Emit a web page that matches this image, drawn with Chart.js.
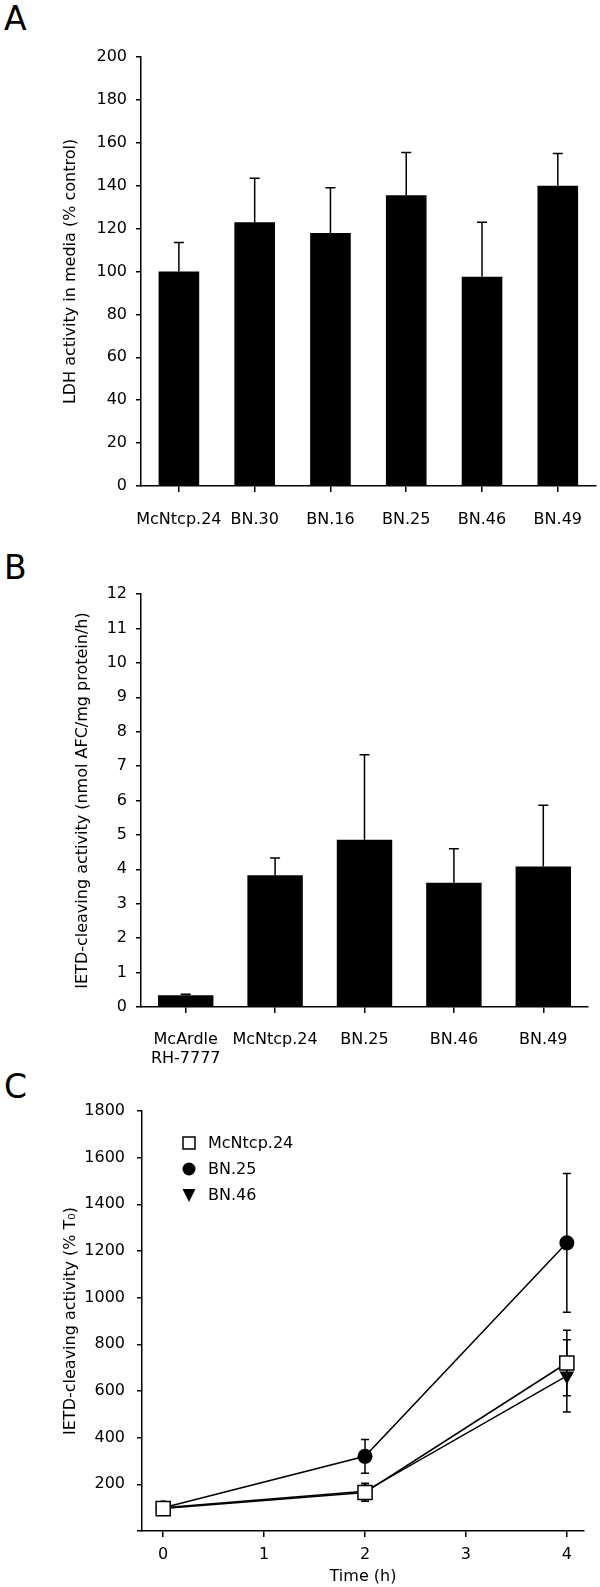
<!DOCTYPE html>
<html>
<head>
<meta charset="utf-8">
<script src="https://cdn.jsdelivr.net/npm/chart.js@4.4.0/dist/chart.umd.min.js"></script>
<style>
  body { margin: 0; background: #fff; width: 600px; height: 1587px; position: relative; overflow: hidden; }
  canvas { position: absolute; left: 0; }
  .lettre { position: absolute; left: 4px; font-family: "DejaVu Sans"; font-size: 33px; line-height: 33px; color: #000; }
</style>
</head>
<body>
<div class="lettre" style="top:2px">A</div>
<div class="lettre" style="top:551px">B</div>
<div class="lettre" style="top:1070px">C</div>
<canvas id="graphA" width="600" height="530" style="top:0px"></canvas>
<canvas id="graphB" width="600" height="536" style="top:530px"></canvas>
<canvas id="graphC" width="600" height="521" style="top:1066px"></canvas>
<script>
// Panel A : LDH
const lignesA = ['McNtcp.24', 'BN.30', 'BN.16', 'BN.25', 'BN.46', 'BN.49'];
const ldhMoy = [100, 123, 118, 135.5, 97.5, 140];
const ldhErr = [13.5, 20.5, 21, 20, 25.5, 15];

// Panel B : IETD
const lignesB = [['McArdle', 'RH-7777'], 'McNtcp.24', 'BN.25', 'BN.46', 'BN.49'];
const ietdMoy = [0.34, 3.83, 4.86, 3.61, 4.08];
const ietdErr = [0.03, 0.5, 2.47, 0.99, 1.78];

// Panel C : cinetique
const tempsH = [0, 2, 4];
const seriesC = ['McNtcp.24', 'BN.25', 'BN.46'];
const mcntcp = [96, 165, 720];
const mcntcpErr = [0, 38, 140];
const bn25 = [100, 320, 1235];
const bn25Err = [0, 72, 297];
const bn46 = [100, 170, 665];
const bn46Err = [0, 35, 155];
const ticksTemps = [0, 1, 2, 3, 4];

Chart.defaults.font.family = 'DejaVu Sans';
Chart.defaults.font.size = 16;
Chart.defaults.color = '#000';
Chart.defaults.animation = false;

// barres d'erreur dessinees avec les echelles du graphique
const barresErreur = {
    id: 'barresErreur',
    dessiner(chart, opts) {
        const ctx = chart.ctx;
        const y = chart.scales.y;
        ctx.save();
        ctx.strokeStyle = '#000';
        ctx.lineWidth = 1.5;
        chart.data.datasets.forEach((ds, di) => {
            const meta = chart.getDatasetMeta(di);
            ds.erreurs.forEach((e, i) => {
                if (!e) return;
                const v = typeof ds.data[i] === 'object' ? ds.data[i].y : ds.data[i];
                const x = meta.data[i].x;
                const haut = y.getPixelForValue(v + e);
                const bas = opts.versHaut ? y.getPixelForValue(v) : y.getPixelForValue(v - e);
                ctx.beginPath();
                ctx.moveTo(x, bas);
                ctx.lineTo(x, haut);
                ctx.moveTo(x - opts.cap, haut);
                ctx.lineTo(x + opts.cap, haut);
                if (!opts.versHaut) {
                    ctx.moveTo(x - opts.cap, bas);
                    ctx.lineTo(x + opts.cap, bas);
                }
                ctx.stroke();
            });
        });
        ctx.restore();
    },
    beforeDatasetsDraw(chart, args, opts) {
        if (opts.dessous) this.dessiner(chart, opts);
    },
    afterDatasetsDraw(chart, args, opts) {
        if (!opts.dessous) this.dessiner(chart, opts);
    }
};

// legende du panel C
const legendeC = {
    id: 'legendeC',
    afterDraw(chart) {
        const ctx = chart.ctx;
        const area = chart.chartArea;
        ctx.save();
        seriesC.forEach((nom, i) => {
            const x = area.left + 47;
            const y = area.top + 32 + i * 26;
            ctx.lineWidth = 1.5;
            ctx.strokeStyle = '#000';
            ctx.fillStyle = '#000';
            ctx.beginPath();
            if (i === 0) {
                ctx.rect(x - 6, y - 6, 12, 12);
                ctx.fillStyle = '#fff';
                ctx.fill();
                ctx.stroke();
            } else if (i === 1) {
                ctx.arc(x, y, 6.5, 0, Math.PI * 2);
                ctx.fill();
            } else {
                ctx.moveTo(x - 6.5, y - 6);
                ctx.lineTo(x + 6.5, y - 6);
                ctx.lineTo(x, y + 7);
                ctx.closePath();
                ctx.fill();
            }
            ctx.fillStyle = '#000';
            ctx.font = '16px "DejaVu Sans"';
            ctx.textBaseline = 'middle';
            ctx.textAlign = 'left';
            ctx.fillText(nom, area.left + 66, y + 1);
        });
        ctx.restore();
    }
};

function grille(long) {
    return { drawOnChartArea: false, drawTicks: true, tickLength: long, offset: false, color: '#000', lineWidth: 1.5 };
}
const bordure = { display: true, color: '#000', width: 1.5 };

function graphiqueBarres(id, labels, moy, err, conf) {
    const ctx = document.getElementById(id).getContext('2d');
    return new Chart(ctx, {
        type: 'bar',
        data: {
            labels: labels,
            datasets: [{
                data: moy,
                erreurs: err,
                backgroundColor: '#000',
                borderWidth: 0,
                categoryPercentage: 1.0,
                barPercentage: conf.barre
            }]
        },
        options: {
            responsive: false,
            devicePixelRatio: 1,
            layout: { padding: conf.padding },
            scales: {
                x: {
                    grid: grille(6),
                    border: bordure,
                    ticks: { padding: conf.padX, maxRotation: 0, autoSkip: false },
                    afterFit: s => { s.height = conf.hautX; }
                },
                y: {
                    min: 0,
                    max: conf.max,
                    grid: grille(5),
                    border: bordure,
                    ticks: { stepSize: conf.pas, padding: 9 },
                    title: { display: true, text: conf.titre, padding: 0 },
                    afterFit: s => { s.width = conf.largY; }
                }
            },
            plugins: {
                legend: { display: false },
                tooltip: { enabled: false },
                barresErreur: { versHaut: true, dessous: false, cap: 5 }
            }
        },
        plugins: [barresErreur]
    });
}

graphiqueBarres('graphA', lignesA, ldhMoy, ldhErr, {
    barre: 0.536, max: 200, pas: 20, padX: 18, hautX: 44, largY: 80,
    padding: { top: 57, left: 61, right: 0, bottom: 0 },
    titre: 'LDH activity in media (% control)'
});

graphiqueBarres('graphB', lignesB, ietdMoy, ietdErr, {
    barre: 0.62, max: 12, pas: 1, padX: 17, hautX: 59, largY: 68,
    padding: { top: 64, left: 73, right: 12, bottom: 0 },
    titre: 'IETD-cleaving activity (nmol AFC/mg protein/h)'
});

function points(valeurs) {
    return tempsH.map((t, i) => ({ x: t, y: valeurs[i] }));
}

new Chart(document.getElementById('graphC').getContext('2d'), {
    type: 'line',
    data: {
        datasets: [{
            label: seriesC[0],
            data: points(mcntcp),
            erreurs: mcntcpErr,
            borderColor: '#000',
            borderWidth: 1.5,
            pointStyle: 'rect',
            pointRadius: 10,
            pointBackgroundColor: '#fff',
            pointBorderColor: '#000',
            pointBorderWidth: 1.5
        }, {
            label: seriesC[1],
            data: points(bn25),
            erreurs: bn25Err,
            borderColor: '#000',
            borderWidth: 1.5,
            pointStyle: 'circle',
            pointRadius: 7.5,
            pointBackgroundColor: '#000',
            pointBorderColor: '#000',
            pointBorderWidth: 0
        }, {
            label: seriesC[2],
            data: points(bn46),
            erreurs: bn46Err,
            borderColor: '#000',
            borderWidth: 1.5,
            pointStyle: 'triangle',
            pointRotation: 180,
            pointRadius: 8.5,
            pointBackgroundColor: '#000',
            pointBorderColor: '#000',
            pointBorderWidth: 0
        }]
    },
    options: {
        responsive: false,
        devicePixelRatio: 1,
        layout: { padding: { top: 45, left: 61, right: 16, bottom: 0 } },
        scales: {
            x: {
                type: 'linear',
                min: -0.21,
                max: 4.17,
                grid: grille(6),
                border: bordure,
                afterBuildTicks: s => { s.ticks = ticksTemps.map(v => ({ value: v })); },
                ticks: { padding: 8 },
                title: { display: true, text: 'Time (h)', padding: { top: 0, bottom: 1 } },
                afterFit: s => { s.height = 56; }
            },
            y: {
                min: 0,
                max: 1800,
                grid: grille(5),
                border: bordure,
                ticks: { stepSize: 200, padding: 12, callback: v => (v === 0 ? '' : v) },
                title: { display: true, text: 'IETD-cleaving activity (% T\u2080)', padding: 0 },
                afterFit: s => { s.width = 81; }
            }
        },
        plugins: {
            legend: { display: false },
            tooltip: { enabled: false },
            barresErreur: { versHaut: false, dessous: true, cap: 4 }
        }
    },
    plugins: [barresErreur, legendeC]
});
</script>
</body>
</html>
